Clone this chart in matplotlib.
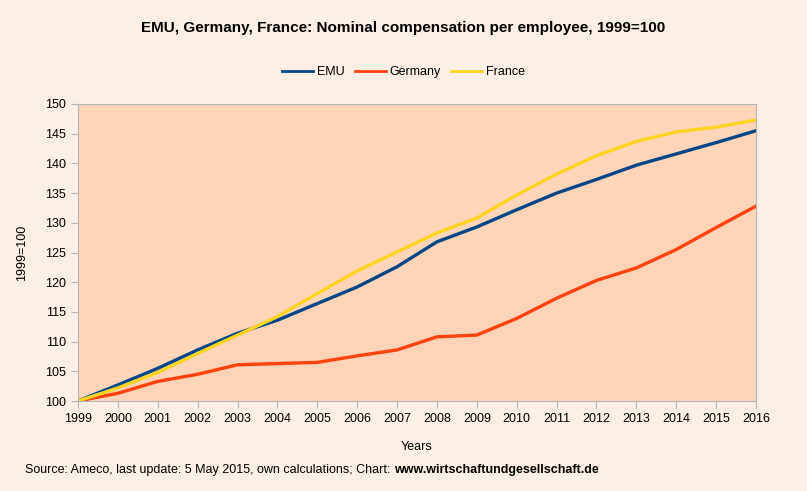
import numpy as np
import matplotlib
matplotlib.use('Agg')
import matplotlib.pyplot as plt

plt.rcParams['font.family'] = ['Liberation Sans', 'DejaVu Sans']

years = list(range(1999, 2017))
emu = [100, 102.7, 105.5, 108.6, 111.4, 113.6, 116.4, 119.2, 122.6, 126.8,
       129.3, 132.2, 135.0, 137.3, 139.7, 141.6, 143.5, 145.5]
germany = [100, 101.3, 103.3, 104.5, 106.1, 106.3, 106.5, 107.6, 108.6, 110.8,
           111.1, 113.9, 117.3, 120.3, 122.4, 125.5, 129.2, 132.8]
france = [100, 102.2, 104.8, 108.0, 111.1, 114.2, 118.1, 121.9, 125.1, 128.3,
          130.8, 134.7, 138.2, 141.3, 143.7, 145.3, 146.1, 147.3]

W, H = 807, 491
fig = plt.figure(figsize=(W/100, H/100), dpi=100, facecolor='#fdefe5')
ax = fig.add_axes([78/W, (H-401)/H, (756-78)/W, (401-104)/H])
ax.set_facecolor('#ffd4b8')

ax.plot(years, emu, color='#004586', lw=2.4, label='EMU')
ax.plot(years, germany, color='#ff420e', lw=2.4, label='Germany')
ax.plot(years, france, color='#ffd320', lw=2.4, label='France')

ax.set_xlim(1999, 2016)
ax.set_ylim(100, 150)
ax.set_xticks(years)
ax.set_yticks(range(100, 151, 5))
for s in ax.spines.values():
    s.set_color('#b3b3b3')
ax.tick_params(colors='#b3b3b3', labelcolor='black', labelsize=9, length=5, direction='out')

ax.set_xlabel('Years', fontsize=9, labelpad=12)
ax.set_ylabel('1999=100', fontsize=9, labelpad=12)

fig.text(0.5, 1 - 28/H, 'EMU, Germany, France: Nominal compensation per employee, 1999=100',
         ha='center', va='center', fontsize=11, fontweight='bold')

leg = fig.legend(loc='center', bbox_to_anchor=(0.5, 1 - 72/H), ncol=3, frameon=False,
                 fontsize=9, handlelength=2.5, columnspacing=0.8, handletextpad=0.3)
for l in leg.get_lines():
    l.set_linewidth(2)

t1 = fig.text(25/W, 1 - 470/H, 'Source: Ameco, last update: 5 May 2015, own calculations; Chart: ',
              ha='left', va='center', fontsize=9)
fig.canvas.draw()
bb = t1.get_window_extent()
fig.text(bb.x1/W, 1 - 470/H, 'www.wirtschaftundgesellschaft.de', ha='left', va='center',
         fontsize=9, fontweight='bold')

fig.savefig('out.png', dpi=100, facecolor=fig.get_facecolor())
